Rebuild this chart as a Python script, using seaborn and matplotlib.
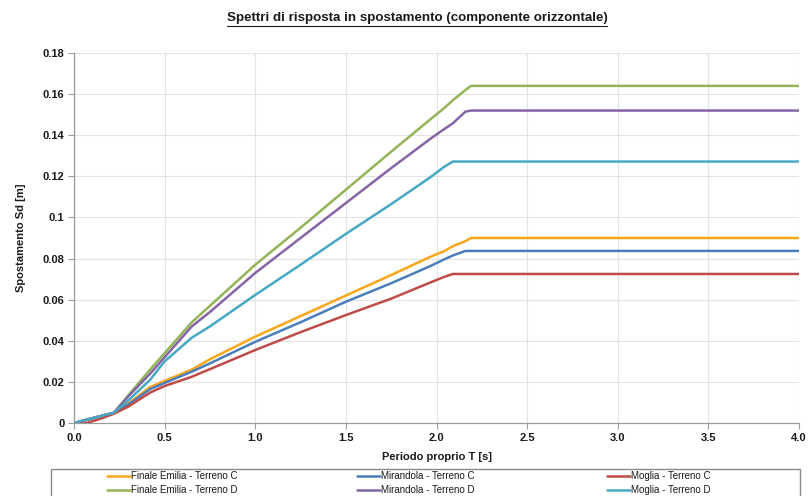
import matplotlib
matplotlib.use("Agg")
import matplotlib.pyplot as plt
from matplotlib.patches import Rectangle
from matplotlib.lines import Line2D
from matplotlib.ticker import FuncFormatter, MultipleLocator
import numpy as np
import pandas as pd
import seaborn as sns

# Natural period T [s]
periods = [0.0, 0.07, 0.15, 0.22, 0.3, 0.42, 0.5, 0.65, 0.75, 1.0, 1.25, 1.5,
           1.75, 1.97, 2.04, 2.09, 2.16, 2.19, 2.5, 3.0, 3.5, 4.0]

# Displacement response spectra Sd [m]
finale_C = [0, 0.0016, 0.0034, 0.005, 0.0095, 0.0175, 0.0205, 0.026, 0.031, 0.042,
            0.052, 0.062, 0.072, 0.081, 0.0835, 0.086, 0.0885, 0.090, 0.090, 0.090,
            0.090, 0.090]
mirandola_C = [0, 0.0016, 0.0034, 0.0048, 0.009, 0.0165, 0.0195, 0.025, 0.029, 0.0395,
               0.049, 0.059, 0.068, 0.0765, 0.0795, 0.0815, 0.0837, 0.0837, 0.0837,
               0.0837, 0.0837, 0.0837]
moglia_C = [0, 0, 0.0022, 0.0045, 0.008, 0.0148, 0.018, 0.0225, 0.0262, 0.0355,
            0.0442, 0.0525, 0.0605, 0.0685, 0.071, 0.0725, 0.0725, 0.0725, 0.0725,
            0.0725, 0.0725, 0.0725]
finale_D = [0, 0.0016, 0.0034, 0.005, 0.0135, 0.026, 0.034, 0.049, 0.057, 0.077,
            0.095, 0.1135, 0.132, 0.148, 0.153, 0.157, 0.162, 0.164, 0.164, 0.164,
            0.164, 0.164]
mirandola_D = [0, 0.0016, 0.0034, 0.005, 0.013, 0.024, 0.032, 0.047, 0.054, 0.073,
               0.090, 0.107, 0.124, 0.1385, 0.1428, 0.1458, 0.1515, 0.152, 0.152,
               0.152, 0.152, 0.152]
moglia_D = [0, 0.0016, 0.0034, 0.005, 0.011, 0.021, 0.030, 0.0415, 0.047, 0.0623,
            0.077, 0.092, 0.1065, 0.1198, 0.1245, 0.1272, 0.1272, 0.1272, 0.1272,
            0.1272, 0.1272, 0.1272]

series_names = ["Finale Emilia - Terreno C", "Finale Emilia - Terreno D",
                "Mirandola - Terreno C", "Mirandola - Terreno D",
                "Moglia - Terreno C", "Moglia - Terreno D"]
series_values = [finale_C, finale_D, mirandola_C, mirandola_D, moglia_C, moglia_D]
series_colors = ["#F9A61A", "#93B457", "#4A7EBB", "#8565A6", "#BE4B48", "#47A8C4"]

y_ticks = [0, 0.02, 0.04, 0.06, 0.08, 0.1, 0.12, 0.14, 0.16, 0.18]

df = pd.concat(
    [pd.DataFrame({"T": periods, "Sd": vals, "serie": name})
     for name, vals in zip(series_names, series_values)],
    ignore_index=True,
)

sns.set_theme(style="white")
plt.rcParams["font.family"] = ["Liberation Sans", "DejaVu Sans"]

W, H = 811, 496
fig = plt.figure(figsize=(W / 100, H / 100), dpi=100)
ax = fig.add_axes([74 / W, 1 - 423 / H, (799 - 74) / W, (423 - 53) / H])

palette = dict(zip(series_names, series_colors))
sns.lineplot(data=df, x="T", y="Sd", hue="serie", hue_order=series_names,
             palette=palette, linewidth=1.8, ax=ax, legend=False, sort=False,
             estimator=None)

ax.set_xlim(0, 4.0)
ax.set_ylim(0, 0.18)
ax.xaxis.set_major_locator(MultipleLocator(0.5))
ax.set_yticks(y_ticks)
ax.xaxis.set_major_formatter(FuncFormatter(lambda v, p: f"{v:.1f}"))
ax.yaxis.set_major_formatter(FuncFormatter(lambda v, p: f"{v:g}"))
ax.grid(True, color="#e3e3e3", linewidth=0.8)
for s in ["top", "right"]:
    ax.spines[s].set_visible(False)
for s in ["left", "bottom"]:
    ax.spines[s].set_color("#9a9a9a")
    ax.spines[s].set_linewidth(0.9)
ax.tick_params(axis="both", which="major", length=4, width=0.8, color="#9a9a9a",
               labelsize=8, pad=3, direction="out", bottom=True, left=True)
for lab in ax.get_xticklabels() + ax.get_yticklabels():
    lab.set_fontweight("bold")
    lab.set_color("#1a1a1a")

ax.set_xlabel("Periodo proprio T [s]", fontsize=8, fontweight="bold",
              color="#1a1a1a", labelpad=7)
ax.set_ylabel("Spostamento Sd [m]", fontsize=8, fontweight="bold",
              color="#1a1a1a", labelpad=12)

title = fig.text(417 / W, 1 - 18 / H,
                 "Spettri di risposta in spostamento (componente orizzontale)",
                 ha="center", va="center", fontsize=9.6, fontweight="bold",
                 color="#1a1a1a")

# Legend frame (box below the plot)
fig.patches.append(Rectangle((51 / W, 1 - 512 / H), (800 - 51) / W, 43 / H,
                             transform=fig.transFigure, fill=False,
                             edgecolor="#8a8a8a", linewidth=1.0))

# Legend entries: three columns, C on top row, D on bottom row
col_x = [107, 357, 607]
for i, x0 in enumerate(col_x):
    handles = [Line2D([], [], color=series_colors[2 * i + k], linewidth=1.8)
               for k in range(2)]
    fig.legend(handles, series_names[2 * i:2 * i + 2], loc="upper left",
               bbox_to_anchor=(x0 / W, 1 - 471 / H), frameon=False, fontsize=7,
               handlelength=2.4, handletextpad=0.1, borderpad=0,
               borderaxespad=0, labelspacing=0.45, labelcolor="#1a1a1a")

# Underline the title
fig.canvas.draw()
bb = title.get_window_extent()
inv = fig.transFigure.inverted()
(x0f, y0f), (x1f, _) = inv.transform([(bb.x0, bb.y0), (bb.x1, bb.y1)])
fig.lines.append(Line2D([x0f, x1f], [y0f - 1.5 / H, y0f - 1.5 / H],
                        transform=fig.transFigure, color="#1a1a1a", linewidth=0.8))

fig.savefig("out.png", dpi=100)
